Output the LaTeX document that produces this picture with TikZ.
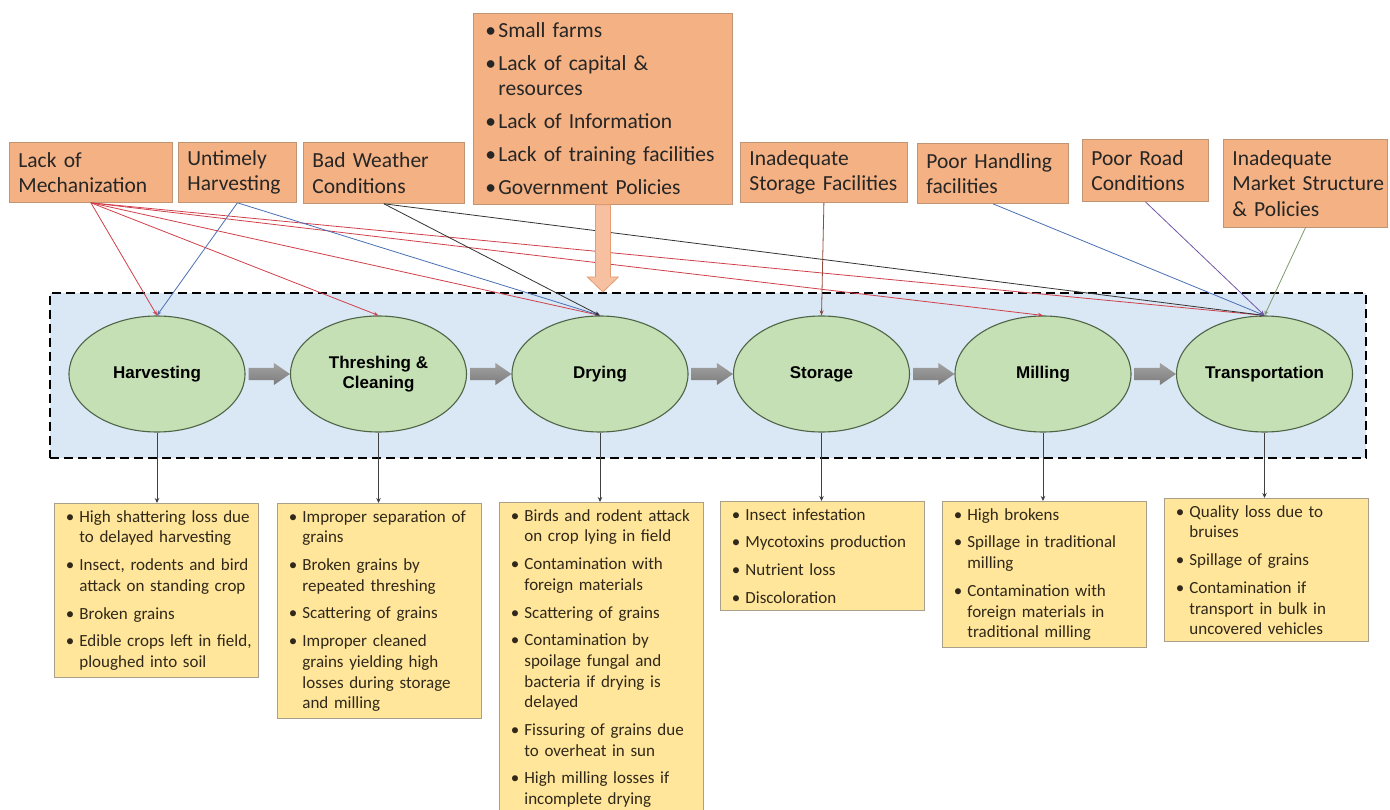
\documentclass[tikz,border=0pt]{standalone}
\usepackage{fontspec}
\setmainfont{Carlito}
\newfontfamily\lsans{Liberation Sans}
\usetikzlibrary{calc,shapes.geometric,arrows.meta}
\definecolor{ofill}{HTML}{F4B183}
\definecolor{oline}{HTML}{BF9574}
\definecolor{afill}{HTML}{F7C0A0}
\definecolor{aline}{HTML}{E39C74}
\definecolor{yfill}{HTML}{FFE69A}
\definecolor{yline}{HTML}{A8A08A}
\definecolor{ytext}{HTML}{30281A}
\definecolor{bandfill}{HTML}{DAE7F5}
\definecolor{efill}{HTML}{C5E0B4}
\definecolor{eline}{HTML}{4F6446}
\definecolor{cred}{HTML}{D0404A}
\definecolor{cblue}{HTML}{4A6FB5}
\definecolor{cblack}{HTML}{333333}
\definecolor{cbrown}{HTML}{8E4A3A}
\definecolor{cpurple}{HTML}{7456A8}
\definecolor{cgreen}{HTML}{7E9A70}
\definecolor{cdown}{HTML}{404040}
\definecolor{gtop}{HTML}{A2A2A2}
\definecolor{gbot}{HTML}{7C7C7C}
\newcommand{\nl}{\unskip\nobreak\hfil\break}
\newcommand{\yitem}[1]{\noindent\hangindent=23pt\hangafter=1\makebox[23pt][l]{\hspace{9.5pt}\textbullet}#1\par}
\newcommand{\oitem}[1]{\noindent\hangindent=16pt\hangafter=1\makebox[16pt][l]{\hspace{3pt}\textbullet}#1\par}
\tikzset{
  obox/.style={rectangle, fill=ofill, draw=oline, line width=0.8pt, anchor=north west,
    inner xsep=9pt, inner ysep=0pt, text=black!85,
    font={\fontsize{21.5}{25.5}\selectfont\raggedright\hyphenpenalty=10000\exhyphenpenalty=10000}},
  ybox/.style={rectangle, fill=yfill, draw=yline, line width=0.8pt, anchor=north west,
    text width=200pt, inner xsep=2pt, inner ysep=7pt, text=ytext,
    font={\fontsize{17}{20.7}\selectfont\raggedright\hyphenpenalty=10000\setlength{\parskip}{7pt}}},
  stage/.style={ellipse, fill=efill, draw=eline, line width=1.1pt, minimum width=176pt,
    minimum height=116pt, inner sep=0pt, align=center,
    font={\lsans\bfseries\fontsize{17}{20}\selectfont}},
  blockarrow/.style={top color=gtop, bottom color=gbot, draw=none},
  cause/.style={line width=0.8pt, -{Stealth[length=5pt,width=4pt]}},
  loss/.style={line width=0.9pt, draw=cdown, -{Stealth[length=5pt,width=4.5pt]}}
}
\begin{document}
\begin{tikzpicture}[x=1pt,y=-1pt]
\useasboundingbox (0,0) rectangle (1390,810);
\fill[white] (0,0) rectangle (1390,810);

% band
\node[rectangle, fill=bandfill, draw=black, line width=2pt, dash pattern=on 9pt off 5pt,
  minimum width=1316pt, minimum height=165pt, inner sep=0pt, anchor=north west] (band) at (49,292) {};

% stages
\node[stage] (harv) at (157,374) {Harvesting};
\node[stage] (thr) at (378.5,374) {Threshing \&\\Cleaning};
\node[stage] (dry) at (600,374) {Drying};
\node[stage] (sto) at (821.5,374) {Storage};
\node[stage] (mil) at (1043,374) {Milling};
\node[stage] (tra) at (1264.5,374) {Transportation};

% block arrows
\foreach \a/\b in {harv/thr, thr/dry, dry/sto, sto/mil, mil/tra}{
  \path[blockarrow] ($(\a.east)+(3,-6)$) -- ($(\b.west)+(-16,-6)$) -- ($(\b.west)+(-16,-11)$)
    -- (\b.west) -- ($(\b.west)+(-16,11)$) -- ($(\b.west)+(-16,6)$) -- ($(\a.east)+(3,6)$) -- cycle;
}

% top cause boxes
\node[obox, text width=145pt, minimum height=60pt] (mech) at (9,142) {Lack of\\Mechanization};
\node[obox, text width=100pt, minimum height=60pt] (untim) at (178,142) {Untimely\\Harvesting};
\node[obox, text width=143pt, minimum height=61pt] (weath) at (303,142) {Bad~Weather\\Conditions};
\node[obox, text width=241pt, minimum height=191pt,
  font={\fontsize{21.5}{25}\selectfont\raggedright\hyphenpenalty=10000\setlength{\parskip}{8pt}}] (central) at (473,13) {%
  \oitem{Small farms}\oitem{Lack of capital \&\nl resources}\oitem{Lack of Information}%
  \oitem{Lack~of~training~facilities}\oitem{Government Policies}};
\node[obox, text width=149pt, minimum height=60pt] (storf) at (740,142) {Inadequate\\Storage~Facilities};
\node[obox, text width=133pt, minimum height=60pt] (handl) at (917,143) {Poor~Handling\\facilities};
\node[obox, text width=108pt, minimum height=62pt] (road) at (1082,139) {Poor~Road\\Conditions};
\node[obox, text width=146pt, minimum height=88pt] (market) at (1223,139) {Inadequate\\Market~Structure\\\&~Policies};

% cause connectors
\foreach \t in {harv, thr, dry, mil, tra}{\draw[cause, cred] (mech.south) -- (\t.north);}
\foreach \t in {harv, dry}{\draw[cause, cblue] (untim.south) -- (\t.north);}
\foreach \t in {dry, tra}{\draw[cause, cblack] (weath.south) -- (\t.north);}
\draw[cause, cbrown] (storf.south) -- (sto.north);
\draw[cause, cblue] (handl.south) -- (tra.north);
\draw[cause, cpurple] (road.south) -- (tra.north);
\draw[cause, cgreen] (market.south) -- (tra.north);

% big arrow from central box
\coordinate (btip) at (central.south |- band.north);
\path[fill=afill, draw=aline, line width=0.8pt]
  ($(central.south)+(-7.5,0)$) -- ($(btip)+(-7.5,-15)$) -- ($(btip)+(-15.5,-15)$) -- (btip)
  -- ($(btip)+(15.5,-15)$) -- ($(btip)+(7.5,-15)$) -- ($(central.south)+(7.5,0)$) -- cycle;

% loss boxes
\node[ybox] (lh) at (54,503) {%
  \yitem{High shattering loss due\nl to delayed harvesting}%
  \yitem{Insect, rodents and bird\nl attack on standing crop}%
  \yitem{Broken grains}%
  \yitem{Edible crops left in field,\nl ploughed into soil}};
\node[ybox] (lt) at (277,503) {%
  \yitem{Improper separation of\nl grains}%
  \yitem{Broken grains by\nl repeated threshing}%
  \yitem{Scattering of grains}%
  \yitem{Improper cleaned\nl grains yielding high\nl losses during storage\nl and milling}};
\node[ybox] (ld) at (499,502) {%
  \yitem{Birds and rodent attack\nl on crop lying in field}%
  \yitem{Contamination with\nl foreign materials}%
  \yitem{Scattering of grains}%
  \yitem{Contamination by\nl spoilage fungal and\nl bacteria if drying is\nl delayed}%
  \yitem{Fissuring of grains due\nl to overheat in sun}%
  \yitem{High milling losses if\nl incomplete drying}};
\node[ybox] (ls) at (720,501) {%
  \yitem{Insect infestation}%
  \yitem{Mycotoxins production}%
  \yitem{Nutrient loss}%
  \yitem{Discoloration}};
\node[ybox] (lm) at (942,501) {%
  \yitem{High brokens}%
  \yitem{Spillage in traditional\nl milling}%
  \yitem{Contamination with\nl foreign materials in\nl traditional milling}};
\node[ybox] (ltr) at (1164,498) {%
  \yitem{Quality loss due to\nl bruises}%
  \yitem{Spillage of grains}%
  \yitem{Contamination if\nl transport in bulk in\nl uncovered vehicles}};

% loss connectors
\foreach \e/\b in {harv/lh, thr/lt, dry/ld, sto/ls, mil/lm, tra/ltr}{
  \draw[loss] (\e.south) -- (\e.south |- \b.north);
}
\end{tikzpicture}
\end{document}
